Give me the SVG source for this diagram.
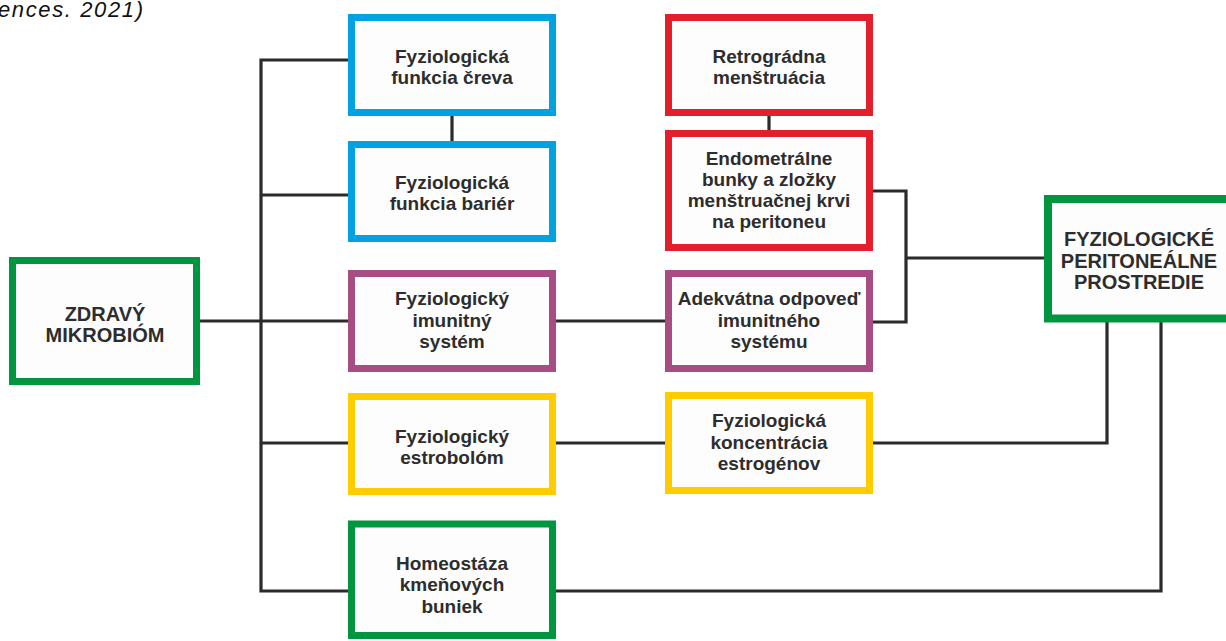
<svg xmlns="http://www.w3.org/2000/svg" width="1226" height="641" viewBox="0 0 1226 641">
<style>
.box{fill:#fdfdfd;stroke-width:7}
.blue{stroke:#00a3e0}
.red{stroke:#e31e2d}
.purple{stroke:#a84c84}
.yellow{stroke:#ffcc00}
.green{stroke:#00963f}
.t{font-family:"Liberation Sans",Arial,sans-serif;font-weight:bold;font-size:19px;fill:#2d2d2d;text-anchor:middle}
.big{font-size:20px}
.conn{fill:none;stroke:#2b2b2b;stroke-width:3.2}
</style>
<rect width="1226" height="641" fill="#ffffff"/>
<text x="-2" y="17" font-family="Liberation Sans, Arial, sans-serif" font-style="italic" font-size="22" fill="#111" textLength="145" lengthAdjust="spacing">ences. 2021)</text>
<g id="connectors">
<path class="conn" d="M200 321H665"/>
<path class="conn" d="M348 60H261V591H348"/>
<path class="conn" d="M261 195H348"/>
<path class="conn" d="M261 443H665"/>
<path class="conn" d="M452 116V141"/>
<path class="conn" d="M769 116V130"/>
<path class="conn" d="M873 191H906V322H873"/>
<path class="conn" d="M906 258H1044"/>
<path class="conn" d="M873 443H1107V322"/>
<path class="conn" d="M556 591H1161V322"/>
</g>
<g id="zdravy"><rect class="box green" x="12.5" y="260.5" width="184" height="121"/><text class="t big" x="105" y="321">ZDRAVÝ</text><text class="t big" x="105" y="341.5">MIKROBIÓM</text></g>
<g id="crevo"><rect class="box blue" x="351.5" y="17.5" width="201" height="95"/><text class="t" x="452" y="62.5">Fyziologická</text><text class="t" x="452" y="83.5">funkcia čreva</text></g>
<g id="barier"><rect class="box blue" x="351.5" y="144.5" width="201" height="94"/><text class="t" x="452" y="189">Fyziologická</text><text class="t" x="452" y="210">funkcia bariér</text></g>
<g id="imunitny"><rect class="box purple" x="351.5" y="273.5" width="201" height="95"/><text class="t" x="452" y="305">Fyziologický</text><text class="t" x="452" y="326.5">imunitný</text><text class="t" x="452" y="348">systém</text></g>
<g id="estrobolom"><rect class="box yellow" x="351.5" y="396.5" width="201" height="95"/><text class="t" x="452" y="442.5">Fyziologický</text><text class="t" x="452" y="463.5">estrobolóm</text></g>
<g id="homeostaza"><rect class="box green" x="351.5" y="524" width="201" height="111.5"/><text class="t" x="452" y="569.5">Homeostáza</text><text class="t" x="452" y="591">kmeňových</text><text class="t" x="452" y="612.5">buniek</text></g>
<g id="retrogradna"><rect class="box red" x="668.5" y="17.5" width="201" height="95"/><text class="t" x="769" y="62.5">Retrográdna</text><text class="t" x="769" y="83.5">menštruácia</text></g>
<g id="endometralne"><rect class="box red" x="668.5" y="133.5" width="201" height="114"/><text class="t" x="769" y="165">Endometrálne</text><text class="t" x="769" y="186">bunky a zložky</text><text class="t" x="769" y="207">menštruačnej krvi</text><text class="t" x="769" y="228">na peritoneu</text></g>
<g id="odpoved"><rect class="box purple" x="668.5" y="273.5" width="201" height="95"/><text class="t" x="769" y="305">Adekvátna odpoveď</text><text class="t" x="769" y="326.5">imunitného</text><text class="t" x="769" y="348">systému</text></g>
<g id="koncentracia"><rect class="box yellow" x="668.5" y="395.5" width="201" height="95"/><text class="t" x="769" y="427">Fyziologická</text><text class="t" x="769" y="448.5">koncentrácia</text><text class="t" x="769" y="470">estrogénov</text></g>
<g id="peritonealne"><rect class="box green" x="1048" y="199" width="182" height="119.5" style="stroke-width:8"/><text class="t big" x="1139" y="246">FYZIOLOGICKÉ</text><text class="t big" x="1139" y="267.5">PERITONEÁLNE</text><text class="t big" x="1139" y="289">PROSTREDIE</text></g>
</svg>
